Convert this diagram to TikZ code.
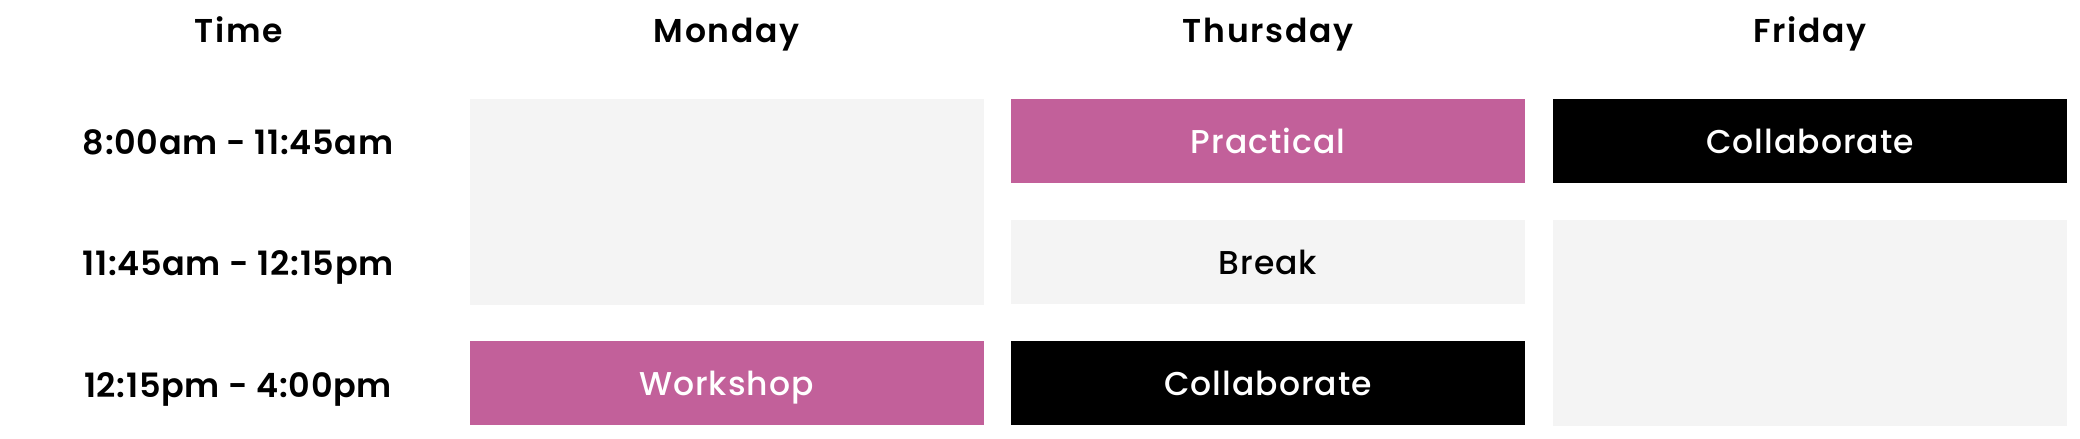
\documentclass[tikz,border=0pt]{standalone}
\usepackage{fontspec}
\setmainfont{Poppins}[UprightFont=* SemiBold]
\newfontfamily\boxfont{Poppins}[UprightFont=* Medium, LetterSpace=3]
\newfontfamily\headfont{Poppins}[UprightFont=* SemiBold, LetterSpace=5]
\newfontfamily\timefont{Poppins}[UprightFont=* SemiBold, LetterSpace=2]
\definecolor{pinkc}{HTML}{C2609A}
\definecolor{grayc}{HTML}{F4F4F4}
\begin{document}
\begin{tikzpicture}[x=1pt,y=-1pt,
  cell/.style={rectangle, inner sep=0pt, minimum width=514pt, minimum height=84pt,
    text height=24pt, text depth=0pt, font=\boxfont\fontsize{33}{40}\selectfont},
  pinkcell/.style={cell, fill=pinkc, text=white},
  blackcell/.style={cell, fill=black, text=white},
  graycell/.style={cell, fill=grayc, text=black},
  head/.style={anchor=base, inner sep=0pt, font=\headfont\fontsize{33}{40}\selectfont},
  timelbl/.style={anchor=base, inner sep=0pt, font=\timefont\fontsize{33.5}{40}\selectfont}]
\useasboundingbox[fill=white] (0,0) rectangle (2080,439);
% headers
\node[head] (hT) at (239,42) {Time};
\node[head] (hM) at (726.5,42) {Monday};
\node[head] (hTh) at (1268,42) {Thursday};
\node[head] (hF) at (1810,42) {Friday};
% time labels
\node[timelbl] (t1) at (238,154) {8:00am - 11:45am};
\node[timelbl] (t2) at (238,275) {11:45am - 12:15pm};
\node[timelbl] (t3) at (238,397) {12:15pm - 4:00pm};
% Monday
\node[graycell, minimum height=206pt] (m12) at (726.5,202) {};
\node[pinkcell] (m3) at (726.5,383) {Workshop};
% Thursday
\node[pinkcell] (th1) at (1268,141) {Practical};
\node[graycell] (th2) at (1268,262) {Break};
\node[blackcell] (th3) at (1268,383) {Collaborate};
% Friday
\node[blackcell] (f1) at (1810,141) {Collaborate};
\node[graycell, minimum height=206pt] (f23) at (1810,323) {};
\end{tikzpicture}
\end{document}
